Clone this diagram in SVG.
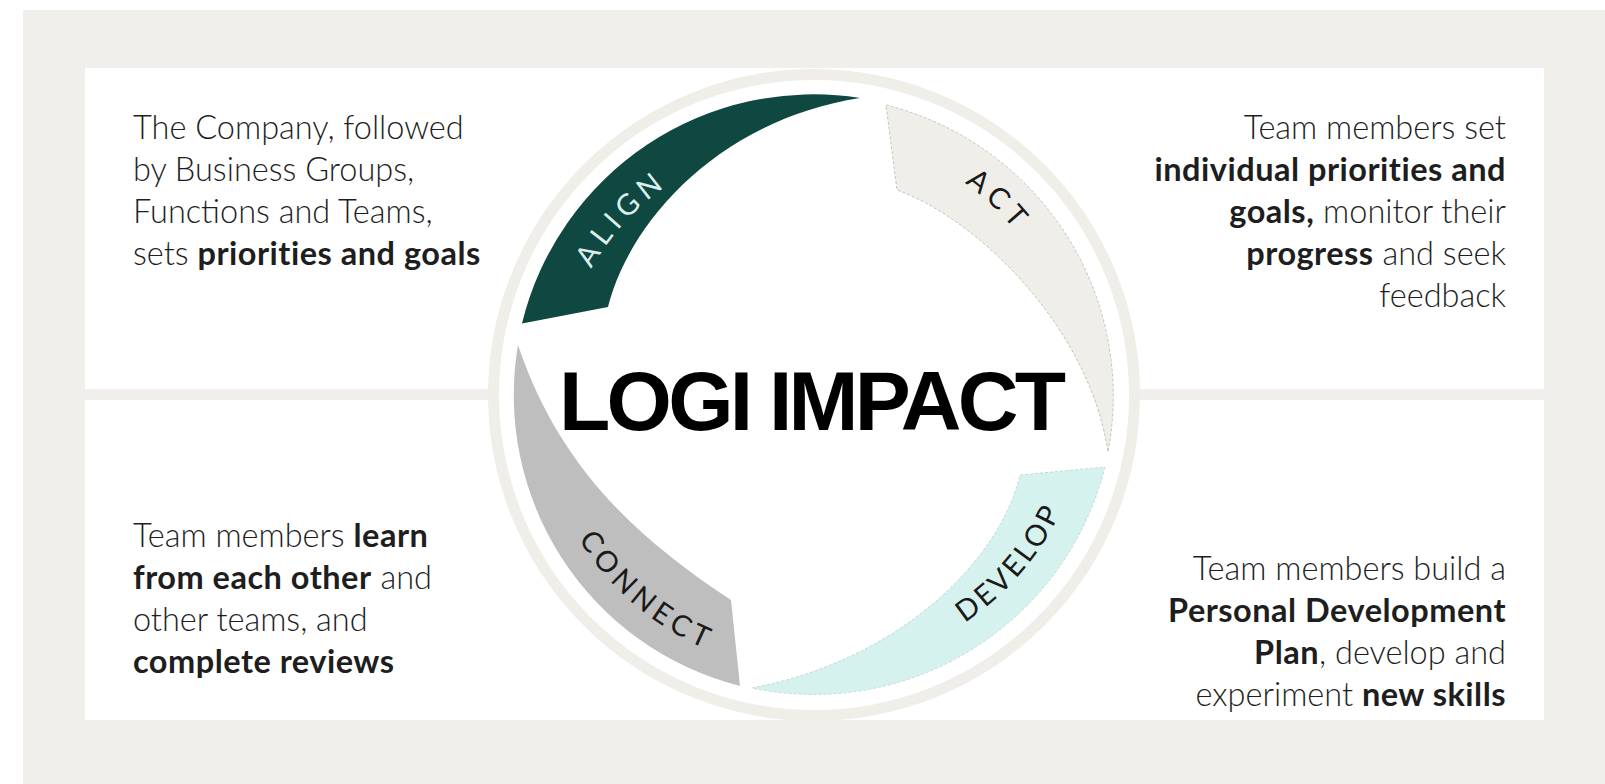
<svg xmlns="http://www.w3.org/2000/svg" width="1605" height="784" viewBox="0 0 1605 784">
  <defs>
    <style>
      .body { font-family: Lato, "Noto Sans", sans-serif; font-weight: 300; font-size: 32.5px; fill: #1e1e1e; }
      .b { font-weight: 700; letter-spacing: 0.5px; }
      .lbl { font-family: Lato, "Noto Sans", sans-serif; font-weight: 400; font-size: 29px; }
      .title { font-family: "Liberation Sans", Arial, sans-serif; font-weight: 700; font-size: 84px; fill: #000; }
    </style>
    <path id="pAlign" d="M 558.2,383.8 A 256 256 0 0 1 780.6,141.2"/>
    <path id="pAct" d="M 829.9,135.5 A 260 260 0 0 1 1072.3,365.6"/>
    <path id="pDevelop" d="M 858.1,664.4 A 273 273 0 0 0 1087,398.3"/>
    <path id="pConnect" d="M 541.8,440.6 A 276 276 0 0 0 811.6,671"/>
  </defs>

  <rect x="0" y="0" width="1605" height="784" fill="#ffffff"/>
  <rect x="23" y="10" width="1582" height="774" fill="#f0efeb"/>

  <g id="panels">
    <rect x="85" y="68" width="1459" height="321" fill="#ffffff"/>
    <rect x="85" y="400" width="1459" height="320" fill="#ffffff"/>
  </g>

  <g id="cycle">
    <circle cx="814" cy="395" r="320.5" fill="#ffffff" stroke="#efeee9" stroke-width="11"/>
  </g>

  <g id="align">
    <path d="M 522,323.5 A 300 300 0 0 1 860,98 C 720,120 630,220 608,307 Z" fill="#0f4741"/>
    <text class="lbl" fill="#dcefec" letter-spacing="6"><textPath href="#pAlign" startOffset="50%" text-anchor="middle">ALIGN</textPath></text>
  </g>

  <g id="act">
    <path d="M 886,105 A 300 300 0 0 1 1108,452 C 1090,330 980,220 897,190 Z" fill="#efeee9" stroke="#b8b8b3" stroke-width="0.8" stroke-dasharray="3 2"/>
    <text class="lbl" fill="#1a1a1a" letter-spacing="6"><textPath href="#pAct" startOffset="50%" text-anchor="middle">ACT</textPath></text>
  </g>

  <g id="develop">
    <path d="M 1105,467 A 300 300 0 0 1 752,688 C 900,660 1000,560 1020,475 Z" fill="#d5f2ee" stroke="#b9d3cf" stroke-width="0.8" stroke-dasharray="3 2"/>
    <text class="lbl" fill="#1a1a1a" letter-spacing="3"><textPath href="#pDevelop" startOffset="50%" text-anchor="middle">DEVELOP</textPath></text>
  </g>

  <g id="connect">
    <path d="M 740,686 A 300 300 0 0 1 518,345 C 560,470 640,540 731,600 Z" fill="#bebebe"/>
    <text class="lbl" fill="#1a1a1a" letter-spacing="5"><textPath href="#pConnect" startOffset="50%" text-anchor="middle">CONNECT</textPath></text>
  </g>

  <g id="title">
    <text class="title" x="559" y="430" textLength="507" lengthAdjust="spacing">LOGI IMPACT</text>
  </g>

  <g id="text-align">
    <text class="body" x="133" y="139">The Company, followed</text>
    <text class="body" x="133" y="181">by Business Groups,</text>
    <text class="body" x="133" y="223">Functions and Teams,</text>
    <text class="body" x="133" y="265">sets <tspan class="b">priorities and goals</tspan></text>
  </g>

  <g id="text-act" text-anchor="end">
    <text class="body" x="1506" y="139">Team members set</text>
    <text class="body" x="1506" y="181"><tspan class="b">individual priorities and</tspan></text>
    <text class="body" x="1506" y="223"><tspan class="b">goals,</tspan> monitor their</text>
    <text class="body" x="1506" y="265"><tspan class="b">progress</tspan> and seek</text>
    <text class="body" x="1506" y="307">feedback</text>
  </g>

  <g id="text-connect">
    <text class="body" x="133" y="547">Team members <tspan class="b">learn</tspan></text>
    <text class="body" x="133" y="589"><tspan class="b">from each other</tspan> and</text>
    <text class="body" x="133" y="631">other teams, and</text>
    <text class="body" x="133" y="673"><tspan class="b">complete reviews</tspan></text>
  </g>

  <g id="text-develop" text-anchor="end">
    <text class="body" x="1506" y="580">Team members build a</text>
    <text class="body" x="1506" y="622"><tspan class="b">Personal Development</tspan></text>
    <text class="body" x="1506" y="664"><tspan class="b">Plan</tspan>, develop and</text>
    <text class="body" x="1506" y="706">experiment <tspan class="b">new skills</tspan></text>
  </g>

  <g id="connectors"/>
</svg>
